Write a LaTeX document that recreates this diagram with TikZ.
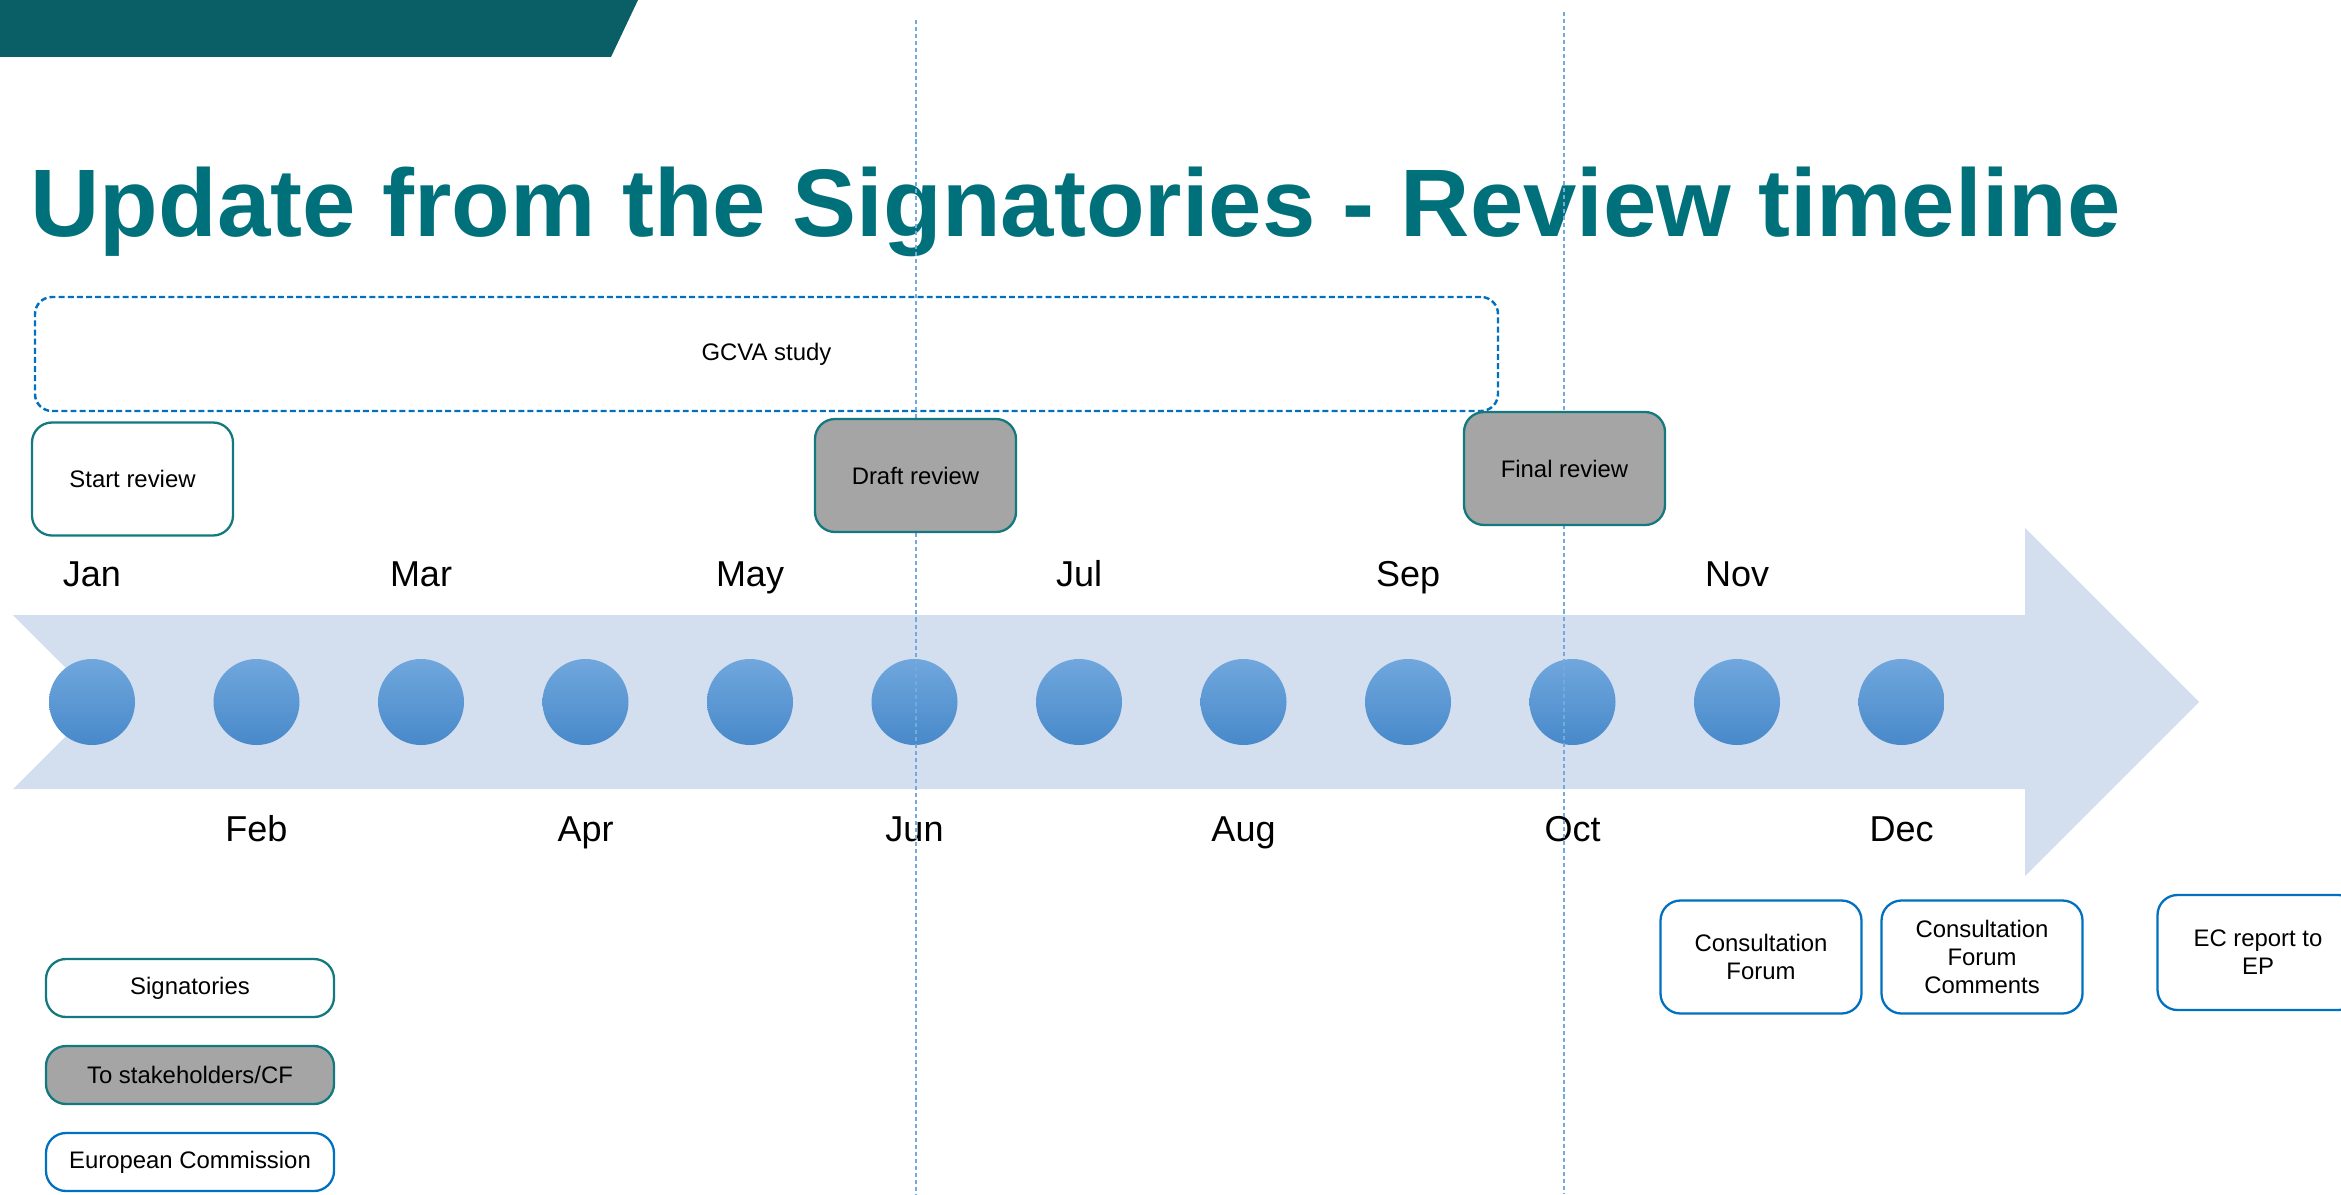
\documentclass[tikz,border=0pt]{standalone}
\usepackage{fontspec}
\setmainfont{Liberation Sans}
\usetikzlibrary{positioning, shapes.misc}
\definecolor{bannerteal}{HTML}{0A5F67}
\definecolor{titleteal}{HTML}{00717B}
\definecolor{signteal}{HTML}{13797F}
\definecolor{ecblue}{HTML}{0070C0}
\definecolor{cfgrey}{HTML}{A5A5A5}
\definecolor{arrowblue}{HTML}{D3DEEF}
\definecolor{dottop}{HTML}{70A7DD}
\definecolor{dotbot}{HTML}{4889CA}
\definecolor{guideblue}{HTML}{74A9DE}
\newcommand{\milestone}[4]
{
	\node[dot] (m#1) at (#2,4.92) {};
	\node[monthlabel] (l#1) at (#2,#4) {#3};
}

\begin{document}
\begin{tikzpicture}[
	dot/.style={circle, minimum size=0.86cm, inner sep=0pt, top color=dottop, bottom color=dotbot},
	monthlabel/.style={anchor=base, inner sep=0pt, font=\fontsize{10.24}{12}\selectfont},
	box/.style={rectangle, rounded corners=0.2cm, line width=0.65pt, minimum width=2.01cm,
		minimum height=1.13cm, align=center, inner sep=1pt, font=\fontsize{6.8}{7.97}\selectfont},
	signbox/.style={box, draw=signteal, fill=white},
	cfbox/.style={box, draw=signteal, fill=cfgrey},
	ecbox/.style={box, draw=ecblue, fill=white},
	legend/.style={minimum width=2.88cm, minimum height=0.58cm},
	guide/.style={guideblue, line width=0.45pt, dash pattern=on 1.15pt off 0.85pt}]

	\useasboundingbox (0,0) rectangle (23.41,11.94);

	% banner and title
	\fill[bannerteal] (0,11.94) -- (6.38,11.94) -- (6.11,11.37) -- (0,11.37) -- cycle;
	\node[anchor=base west, inner sep=0pt, text=titleteal, font=\fontsize{27.3}{32}\selectfont\bfseries] (title) at (0.30,9.58) {Update from the Signatories - Review timeline};

	% timeline arrow
	\fill[arrowblue] (0.13,5.79) -- (20.25,5.79) -- (20.25,6.66) -- (21.99,4.92) -- (20.25,3.18) -- (20.25,4.05) -- (0.13,4.05) -- (1.00,4.92) -- cycle;

	\milestone{Jan}{0.92}{Jan}{6.08};
	\milestone{Feb}{2.565}{Feb}{3.53};
	\milestone{Mar}{4.21}{Mar}{6.08};
	\milestone{Apr}{5.855}{Apr}{3.53};
	\milestone{May}{7.50}{May}{6.08};
	\milestone{Jun}{9.145}{Jun}{3.53};
	\milestone{Jul}{10.79}{Jul}{6.08};
	\milestone{Aug}{12.435}{Aug}{3.53};
	\milestone{Sep}{14.08}{Sep}{6.08};
	\milestone{Oct}{15.725}{Oct}{3.53};
	\milestone{Nov}{17.37}{Nov}{6.08};
	\milestone{Dec}{19.015}{Dec}{3.53};

	% study period
	\node[box, draw=ecblue, dash pattern=on 1.7pt off 0.9pt, line width=0.7pt, rounded corners=0.17cm, minimum width=14.63cm, minimum height=1.14cm] (GCVA) at (7.665,8.40) {GCVA study};

	% guide lines
	\coordinate (draftTop) at (9.157,11.74);
	\coordinate (draftBot) at (9.157,0);
	\coordinate (finalTop) at (15.64,11.82);
	\coordinate (finalBot) at (15.64,0);
	\draw[guide] (draftTop) -- (draftBot);
	\draw[guide] (finalTop) -- (finalBot);

	% reviews
	\node[signbox] (start) at (1.325,7.15) {Start review};
	\node[cfbox] (draft) at (9.155,7.185) {Draft review};
	\node[cfbox] (final) at (15.645,7.255) {Final review};

	% European Commission steps
	\node[ecbox] (CF) at (17.61,2.37) {Consultation\\Forum};
	\node[ecbox] (CFC) at (19.82,2.37) {Consultation\\Forum\\Comments};
	\node[ecbox, minimum height=1.15cm] (EC) at (22.58,2.415) {EC report to\\EP};

	% legend
	\node[signbox, legend] (legSign) at (1.90,2.06) {Signatories};
	\node[cfbox, legend] (legCF) at (1.90,1.19) {To stakeholders/CF};
	\node[ecbox, legend] (legEC) at (1.90,0.32) {European Commission};
\end{tikzpicture}
\end{document}
